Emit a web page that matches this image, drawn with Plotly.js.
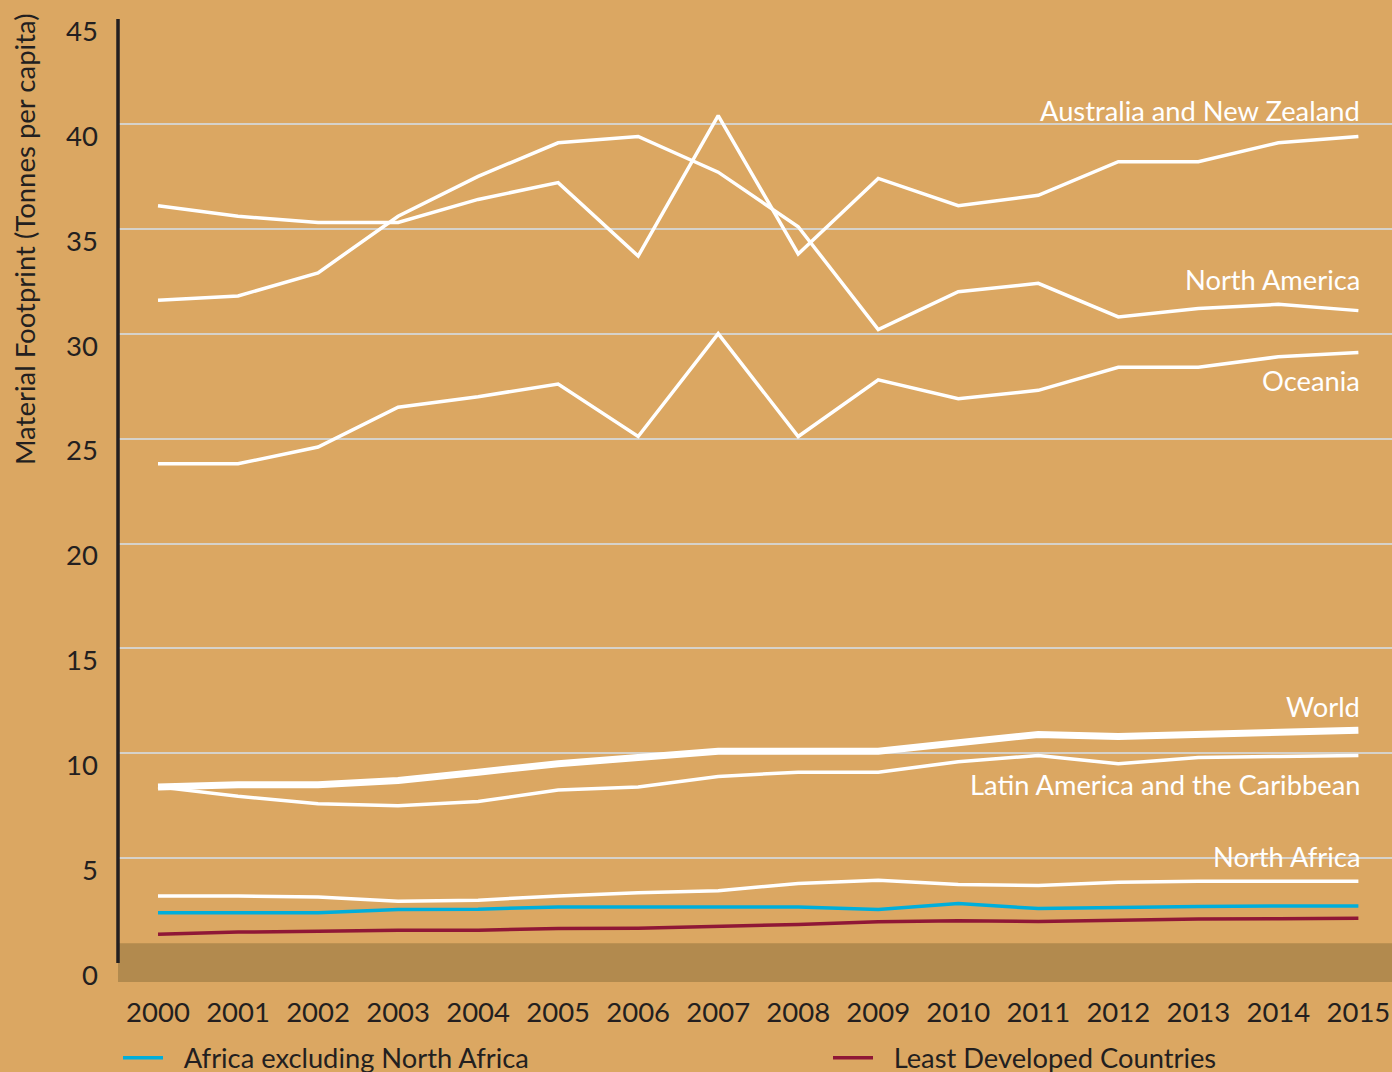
<!DOCTYPE html>
<html>
<head>
<meta charset="utf-8">
<script src="https://cdn.plot.ly/plotly-3.0.1.min.js"></script>
<style>
  html, body { margin: 0; padding: 0; background: #DBA762; }
  #chart { width: 1392px; height: 1072px; }
</style>
</head>
<body>
<div id="chart"></div>
<script>
const years = [2000,2001,2002,2003,2004,2005,2006,2007,2008,2009,2010,2011,2012,2013,2014,2015];

const australiaNZ   = [36.1,35.6,35.3,35.3,36.4,37.2,33.7,40.4,33.8,37.4,36.1,36.6,38.2,38.2,39.1,39.4];
const northAmerica  = [31.6,31.8,32.9,35.6,37.5,39.1,39.4,37.7,35.1,30.2,32.0,32.4,30.8,31.2,31.4,31.1];
const oceania       = [23.8,23.8,24.6,26.5,27.0,27.6,25.1,30.0,25.1,27.8,26.9,27.3,28.4,28.4,28.9,29.1];
const world         = [8.4,8.5,8.5,8.7,9.1,9.5,9.8,10.1,10.1,10.1,10.5,10.9,10.8,10.9,11.0,11.1];
const latinAmerica  = [8.4,7.95,7.6,7.5,7.7,8.25,8.4,8.9,9.1,9.1,9.6,9.9,9.5,9.8,9.85,9.9];
const northAfrica   = [3.2,3.2,3.15,2.95,3.0,3.2,3.35,3.45,3.8,3.95,3.75,3.7,3.85,3.9,3.9,3.9];
const africaExNA    = [2.4,2.4,2.4,2.55,2.57,2.68,2.68,2.68,2.68,2.56,2.84,2.6,2.67,2.7,2.72,2.72];
const ldc           = [1.38,1.48,1.52,1.57,1.57,1.65,1.66,1.73,1.84,1.97,2.02,1.98,2.05,2.1,2.11,2.14];

const yTicks = [0,5,10,15,20,25,30,35,40,45];

const labelNames = ["Australia and New Zealand","North America","Oceania","World","Latin America and the Caribbean","North Africa"];
const labelY     = [40.65, 32.6, 27.75, 12.25, 8.5, 5.1];

const legendNames = ["Africa excluding North Africa", "Least Developed Countries"];

const BG = '#DBA762';
const BAND = '#B28A4E';
const TXT = '#231F20';
const FONT = 'Lato, "Open Sans", sans-serif';
const PAD = '\u00A0\u00A0\u200A';

function whiteLine(y, name, w) {
  return { x: years, y: y, name: name, type: 'scatter', mode: 'lines',
           line: { color: '#FFFFFF', width: w, shape: 'linear' }, showlegend: false, hoverinfo: 'skip' };
}

const traces = [
  whiteLine(australiaNZ, 'Australia and New Zealand', 3.5),
  whiteLine(northAmerica, 'North America', 3.5),
  whiteLine(oceania, 'Oceania', 3.5),
  whiteLine(latinAmerica, 'Latin America and the Caribbean', 3.5),
  whiteLine(world, 'World', 7),
  whiteLine(northAfrica, 'North Africa', 3.5),
  { x: years, y: africaExNA, name: PAD + legendNames[0], type: 'scatter', mode: 'lines',
    line: { color: '#00AEDB', width: 3.5 }, showlegend: true, legend: 'legend' },
  { x: years, y: ldc, name: PAD + legendNames[1], type: 'scatter', mode: 'lines',
    line: { color: '#8F1736', width: 3.5 }, showlegend: true, legend: 'legend2' }
];

const annotations = labelNames.map((t, i) => ({
  x: years[years.length - 1], y: labelY[i], xref: 'x', yref: 'y', xshift: 4,
  text: t, showarrow: false, xanchor: 'right', yanchor: 'middle',
  font: { family: FONT, size: 27.3, color: '#FFFFFF' }
}));

annotations.push({
  xref: 'paper', yref: 'paper', x: (24 - 118) / 1274, y: (982 - 239) / 963,
  xanchor: 'center', yanchor: 'middle', textangle: -90,
  text: 'Material Footprint (Tonnes per capita)', showarrow: false,
  font: { family: FONT, size: 27.5, color: TXT }
});

const legendCommon = {
  orientation: 'h', xref: 'container', yref: 'container',
  y: 1 - 1058/1072, xanchor: 'left', yanchor: 'middle', itemwidth: 40,
  font: { family: FONT, size: 27.3, color: TXT }, bgcolor: 'rgba(0,0,0,0)'
};

const layout = {
  width: 1392, height: 1072,
  paper_bgcolor: BG, plot_bgcolor: BG,
  margin: { l: 118, r: 0, t: 19, b: 90, pad: 0 },
  font: { family: FONT, color: TXT, size: 27 },
  xaxis: {
    range: [1999.5, 2015.42], tickvals: years, ticktext: years.map(String),
    showgrid: false, zeroline: false, showline: false, ticks: '',
    tickfont: { family: FONT, size: 27.5, color: TXT }, ticklabelstandoff: 11, fixedrange: true
  },
  yaxis: {
    range: [-0.9, 45], tickvals: yTicks, ticktext: yTicks.map(String),
    showgrid: true, gridcolor: '#D6D2CA', gridwidth: 2, zeroline: false, showline: false, ticks: '',
    ticklabelposition: 'outside bottom', ticklabelstandoff: 19, ticklabelshift: -7,
    tickfont: { family: FONT, size: 27.5, color: TXT }, fixedrange: true
  },
  shapes: [
    { type: 'rect', xref: 'paper', yref: 'y', x0: 0, x1: 1, y0: -0.9, y1: 0.95,
      fillcolor: BAND, line: { width: 0 }, layer: 'above' },
    { type: 'line', xref: 'paper', yref: 'y', x0: 0, x1: 0, y0: 0, y1: 45,
      line: { color: TXT, width: 3.5 }, layer: 'above' }
  ],
  annotations: annotations,
  showlegend: true,
  legend: Object.assign({}, legendCommon, { x: 118/1392 }),
  legend2: Object.assign({}, legendCommon, { x: 828/1392 })
};

Plotly.newPlot('chart', traces, layout, { displayModeBar: false, staticPlot: true });
</script>
</body>
</html>
